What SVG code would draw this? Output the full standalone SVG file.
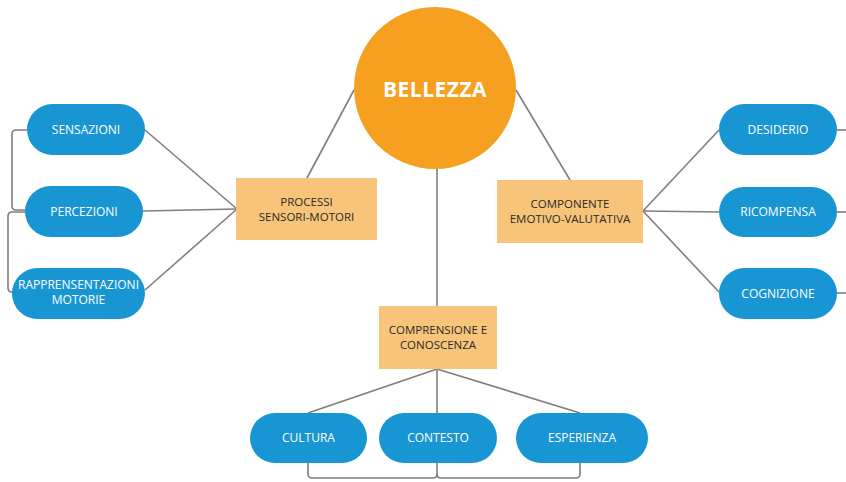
<svg xmlns="http://www.w3.org/2000/svg" width="846" height="482" viewBox="0 0 846 482">
<style>
.pill{fill:#1895d3}
.pt{fill:#fff;font-family:"Open Sans",sans-serif;font-size:12px;text-anchor:middle}
.box{fill:#f8c479}
.bt{fill:#2a2a2a;font-family:"Open Sans",sans-serif;font-size:11.5px;text-anchor:middle}
.ln{stroke:#857b7b;stroke-width:1.6;fill:none}
</style>
<rect width="846" height="482" fill="#fff"/>
<g id="connectors">
<line class="ln" x1="354" y1="90" x2="307" y2="178"/>
<line class="ln" x1="516" y1="90" x2="570" y2="180"/>
<line class="ln" x1="437" y1="168" x2="437" y2="306"/>
<line class="ln" x1="437" y1="369" x2="437" y2="474"/>
<line class="ln" x1="437" y1="369" x2="308" y2="413"/>
<line class="ln" x1="437" y1="369" x2="580" y2="413"/>
<path class="ln" d="M308,463 V474 q0,4 4,4 H433 q4,0 4,-4 M580,463 V474 q0,4 -4,4 H441 q-4,0 -4,-4"/>
<line class="ln" x1="145" y1="130" x2="237" y2="209"/>
<line class="ln" x1="143" y1="211" x2="237" y2="209"/>
<line class="ln" x1="145" y1="290" x2="237" y2="209"/>
<path class="ln" d="M28,130 H16 q-4,0 -4,4 V206 q0,4 4,4 H28 M28,212 H12 q-4,0 -4,4 V288 q0,4 4,4 H14"/>
<line class="ln" x1="643" y1="211" x2="719" y2="130"/>
<line class="ln" x1="643" y1="211" x2="719" y2="212"/>
<line class="ln" x1="643" y1="211" x2="719" y2="292"/>
<line class="ln" x1="837" y1="130" x2="846" y2="130"/>
<line class="ln" x1="837" y1="212" x2="846" y2="212"/>
<line class="ln" x1="837" y1="293" x2="846" y2="293"/>
</g>
<g id="bellezza">
<circle cx="435" cy="88" r="81" fill="#f5a020"/>
<text x="435" y="97" fill="#fff" font-family="'Open Sans',sans-serif" font-size="21" font-weight="bold" text-anchor="middle" letter-spacing="0.5">BELLEZZA</text>
</g>
<g id="processi">
<rect class="box" x="236" y="178" width="141" height="62"/>
<text class="bt" x="306.5" y="206">PROCESSI</text>
<text class="bt" x="306.5" y="221">SENSORI-MOTORI</text>
</g>
<g id="componente">
<rect class="box" x="497" y="180" width="146" height="63"/>
<text class="bt" x="570" y="208">COMPONENTE</text>
<text class="bt" x="570" y="223">EMOTIVO-VALUTATIVA</text>
</g>
<g id="comprensione">
<rect class="box" x="379" y="306" width="118" height="63"/>
<text class="bt" x="438" y="334">COMPRENSIONE E</text>
<text class="bt" x="438" y="349">CONOSCENZA</text>
</g>
<g id="sensazioni">
<rect class="pill" x="27" y="104" width="118" height="51" rx="25.5"/>
<text class="pt" x="86" y="134">SENSAZIONI</text>
</g>
<g id="percezioni">
<rect class="pill" x="25" y="186" width="118" height="51" rx="25.5"/>
<text class="pt" x="84" y="216">PERCEZIONI</text>
</g>
<g id="rappresentazioni">
<rect class="pill" x="12" y="268" width="133" height="51" rx="25.5"/>
<text class="pt" x="78.5" y="288.5" font-size="11">RAPPRENSENTAZIONI</text>
<text class="pt" x="78.5" y="304" font-size="11">MOTORIE</text>
</g>
<g id="desiderio">
<rect class="pill" x="719" y="104" width="118" height="51" rx="25.5"/>
<text class="pt" x="778" y="134">DESIDERIO</text>
</g>
<g id="ricompensa">
<rect class="pill" x="719" y="187" width="118" height="50" rx="25"/>
<text class="pt" x="778" y="216">RICOMPENSA</text>
</g>
<g id="cognizione">
<rect class="pill" x="719" y="268" width="118" height="51" rx="25.5"/>
<text class="pt" x="778" y="298">COGNIZIONE</text>
</g>
<g id="cultura">
<rect class="pill" x="250" y="413" width="117" height="50" rx="25"/>
<text class="pt" x="308.5" y="442">CULTURA</text>
</g>
<g id="contesto">
<rect class="pill" x="379" y="413" width="118" height="50" rx="25"/>
<text class="pt" x="438" y="442">CONTESTO</text>
</g>
<g id="esperienza">
<rect class="pill" x="516" y="413" width="132" height="50" rx="25"/>
<text class="pt" x="582" y="442">ESPERIENZA</text>
</g>
</svg>
